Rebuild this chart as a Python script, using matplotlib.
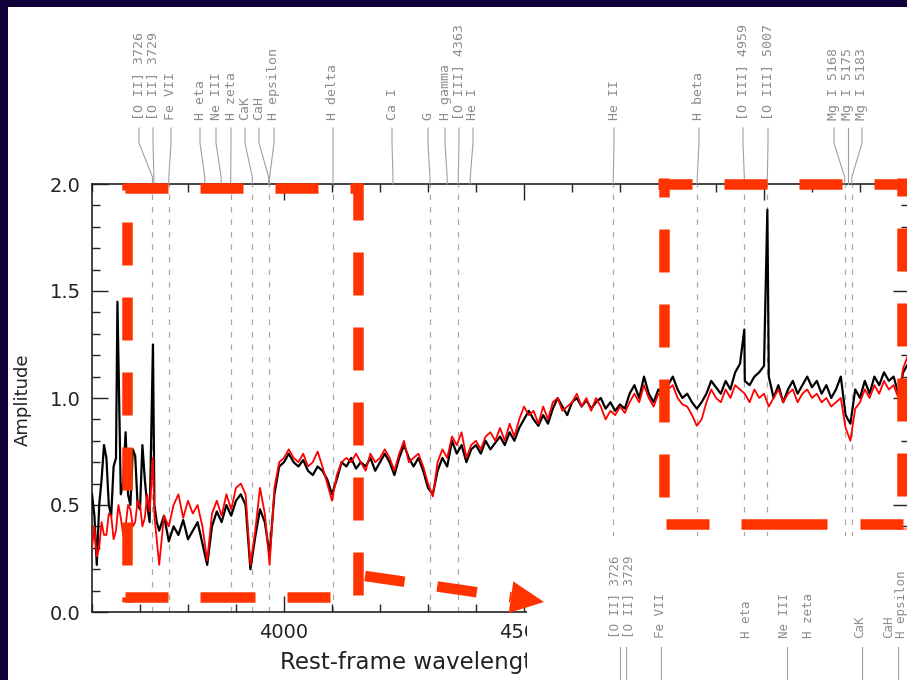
import numpy as np
import matplotlib
matplotlib.use("Agg")
import matplotlib.pyplot as plt
from matplotlib.lines import Line2D
from matplotlib.patches import Rectangle, Polygon
from matplotlib.transforms import Affine2D
from matplotlib.ticker import MultipleLocator, FixedLocator, FixedFormatter, FormatStrFormatter

plt.rcParams['lines.scale_dashes'] = False
plt.rcParams['font.family'] = ['DejaVu Sans']

# ---------------- data ----------------
wave = np.arange(3600, 5320, 10)
black_flux = [
    0.55, 0.22, 0.62, 0.72, 0.45, 0.72, 0.55, 0.84, 0.50, 0.73,
    0.48, 0.62, 0.42, 0.50, 0.38, 0.45, 0.33, 0.40, 0.36, 0.43,
    0.34, 0.38, 0.42, 0.32, 0.22, 0.40, 0.47, 0.42, 0.50, 0.45,
    0.52, 0.55, 0.50, 0.20, 0.35, 0.48, 0.42, 0.27, 0.55, 0.68,
    0.70, 0.74, 0.70, 0.68, 0.71, 0.66, 0.64, 0.68, 0.66, 0.62,
    0.55, 0.62, 0.70, 0.68, 0.72, 0.67, 0.70, 0.68, 0.72, 0.66,
    0.70, 0.74, 0.70, 0.64, 0.72, 0.78, 0.72, 0.68, 0.72, 0.66,
    0.58, 0.55, 0.66, 0.72, 0.68, 0.80, 0.74, 0.78, 0.70, 0.76,
    0.78, 0.74, 0.80, 0.76, 0.79, 0.82, 0.78, 0.84, 0.80, 0.86,
    0.90, 0.94, 0.90, 0.87, 0.92, 0.88, 0.95, 1.00, 0.96, 0.92,
    0.98, 1.00, 0.96, 0.99, 0.95, 0.98, 1.00, 0.95, 0.98, 0.94,
    0.97, 0.95, 1.02, 1.06, 1.00, 1.10, 1.02, 0.98, 1.04, 1.02,
    1.06, 1.10, 1.04, 1.00, 1.02, 0.98, 0.95, 0.98, 1.02, 1.08,
    1.05, 1.02, 1.08, 1.04, 1.12, 1.16, 1.08, 1.06, 1.10, 1.12,
    1.15, 1.10, 1.00, 1.06, 0.98, 1.04, 1.08, 1.02, 1.06, 1.10,
    1.05, 1.08, 1.02, 1.06, 1.00, 1.04, 1.10, 0.92, 0.88, 1.04,
    1.00, 1.08, 1.02, 1.10, 1.06, 1.12, 1.08, 1.10, 1.02, 1.12,
    1.16, 1.14]
red_flux = [
    0.30, 0.26, 0.42, 0.36, 0.45, 0.38, 0.44, 0.40, 0.48, 0.42,
    0.50, 0.44, 0.47, 0.45, 0.22, 0.45, 0.40, 0.50, 0.55, 0.44,
    0.52, 0.46, 0.50, 0.40, 0.24, 0.46, 0.52, 0.45, 0.55, 0.48,
    0.58, 0.60, 0.55, 0.22, 0.38, 0.58, 0.46, 0.22, 0.58, 0.70,
    0.72, 0.76, 0.72, 0.70, 0.74, 0.68, 0.70, 0.75, 0.68, 0.60,
    0.52, 0.64, 0.70, 0.72, 0.70, 0.74, 0.70, 0.66, 0.74, 0.70,
    0.72, 0.76, 0.72, 0.66, 0.74, 0.80, 0.70, 0.72, 0.74, 0.68,
    0.60, 0.54, 0.70, 0.76, 0.72, 0.82, 0.78, 0.84, 0.72, 0.78,
    0.80, 0.76, 0.82, 0.84, 0.80, 0.86, 0.80, 0.88, 0.82, 0.90,
    0.96, 0.92, 0.94, 0.88, 0.96, 0.90, 0.98, 1.00, 0.94, 0.96,
    0.98, 1.02, 0.96, 1.00, 0.94, 1.00, 0.96, 0.90, 0.94, 0.92,
    0.96, 0.93, 0.98, 1.02, 0.98, 1.06, 1.00, 0.96, 1.02, 1.00,
    1.04, 1.06, 1.00, 0.97, 0.96, 0.92, 0.87, 0.90, 0.98, 1.04,
    1.00, 0.98, 1.04, 1.00, 1.06, 1.04, 1.02, 0.98, 1.04, 1.00,
    1.02, 0.96, 1.00, 1.04, 0.98, 1.02, 1.04, 0.98, 1.02, 1.04,
    1.00, 1.02, 0.98, 1.00, 0.96, 0.98, 1.00, 0.86, 0.80, 0.95,
    0.98, 1.04, 1.00, 1.06, 1.02, 1.08, 1.04, 1.06, 1.00, 1.14,
    1.20, 1.16]
# extra samples in the noisy blue end and narrow emission peaks
black_extra_wave = [3605, 3615, 3625, 3635, 3645, 3653, 3665, 3675, 3685,
                    3695, 3705, 3715, 3727, 3735, 4959, 5007]
black_extra_flux = [0.45, 0.50, 0.78, 0.50, 0.68, 1.45, 0.60, 0.55, 0.76,
                    0.50, 0.78, 0.50, 1.25, 0.42, 1.32, 1.88]
red_extra_wave = [3605, 3615, 3625, 3635, 3645, 3655, 3665, 3675, 3685,
                  3695, 3705, 3715, 3727]
red_extra_flux = [0.40, 0.30, 0.36, 0.46, 0.34, 0.50, 0.36, 0.50, 0.40,
                  0.52, 0.40, 0.55, 0.72]

x_major_ticks = [4000, 4500, 5000]
x_major_labels = ['4000', '4500', '']

# line identifications (top)
top_names = ["[O II] 3726", "[O II] 3729", "Fe VII", "H eta", "Ne III", "H zeta",
             "CaK", "CaH", "H epsilon", "H delta", "Ca I", "G", "H gamma",
             "[O III] 4363", "He I", "He II", "H beta", "[O III] 4959",
             "[O III] 5007", "Mg I 5168", "Mg I 5175", "Mg I 5183"]
top_wave = [3726, 3729, 3760, 3835, 3869, 3889, 3934, 3968, 3970, 4102, 4227,
            4304, 4340, 4363, 4388, 4686, 4861, 4959, 5007, 5168, 5175, 5183]
top_text_x = [139, 153, 171, 200, 216, 231, 245, 259, 274, 333, 392, 428, 445,
              459, 473, 614, 699, 743, 768, 834, 848, 862]
dashed_wave = [3726, 3760, 3889, 3934, 3969, 4102, 4304, 4363, 4686, 4861,
               4959, 5007, 5168, 5183]

# identifications of the next panel (bottom strip)
bot_names = ["[O II] 3726", "[O II] 3729", "Fe VII", "H eta", "Ne III", "H zeta",
             "CaK", "CaH", "H epsilon"]
bot_text_x = [615, 629, 660, 747, 785, 808, 860, 889, 901]
bot_line_x = [620, 626, 661, 787, 862, 898]

# ---------------- figure ----------------
W, H = 907, 680
NAVY = '#10003a'
RED = '#ff3300'
GREY = '#8c8c8c'
LBLFONT = ['DejaVu Sans Mono', 'DejaVu Sans']
fig = plt.figure(figsize=(W / 100, H / 100), dpi=100, facecolor=NAVY)
px = Affine2D().scale(1 / W, -1 / H).translate(0, 1) + fig.transFigure

fig.add_artist(Rectangle((8, 7), W, H, transform=px, facecolor='white',
                         edgecolor='none', zorder=-5))

ax = fig.add_axes([92 / W, 1 - 612 / H, (909 - 92) / W, (612 - 184) / H])
ax.set_facecolor('none')
ax.set_xlim(3600, 3600 + 817 / 0.48)
ax.set_ylim(0, 2.0)

for w in dashed_wave:
    ax.axvline(w, color='#a8a8a8', lw=0.9, ls=(0, (4, 5)), zorder=1)

wb = np.concatenate([wave, black_extra_wave])
fb = np.concatenate([black_flux, black_extra_flux])
o = np.argsort(wb)
ax.plot(wb[o], fb[o], color='black', lw=1.6, zorder=3)
wr = np.concatenate([wave, red_extra_wave])
fr = np.concatenate([red_flux, red_extra_flux])
o = np.argsort(wr)
ax.plot(wr[o], fr[o], color='#ff0000', lw=1.3, zorder=4)

ax.xaxis.set_major_locator(FixedLocator(x_major_ticks))
ax.xaxis.set_major_formatter(FixedFormatter(x_major_labels))
ax.xaxis.set_minor_locator(MultipleLocator(100))
ax.yaxis.set_major_locator(MultipleLocator(0.5))
ax.yaxis.set_minor_locator(MultipleLocator(0.1))
ax.yaxis.set_major_formatter(FormatStrFormatter('%.1f'))
ax.tick_params(which='both', direction='in', top=True, right=True,
               colors='#222222', labelsize=14, width=1.0)
ax.tick_params(which='major', length=11.5)
ax.tick_params(which='minor', length=5.8)
ax.tick_params(axis='x', pad=8)
ax.tick_params(axis='y', pad=8)
for s in ax.spines.values():
    s.set_linewidth(1.2)
    s.set_color('#222222')

fig.text(23 / W, 1 - 400 / H, 'Amplitude', rotation=90, ha='center',
         va='center', fontsize=13, color='#222222')
fig.text(280 / W, 1 - 662 / H, 'Rest-frame wavelength',
         ha='left', va='center', fontsize=16.5, color='#222222', zorder=1)

# top identification labels with connectors
inv = px.inverted()
for name, w, xt in zip(top_names, top_wave, top_text_x):
    xl = inv.transform(ax.transData.transform((w, 0)))[0]
    fig.text(xt / W, 1 - 120 / H, name, rotation=90, ha='center', va='bottom',
             fontsize=9.5, color=GREY, family=LBLFONT)
    fig.add_artist(Line2D([xt, xt, xl, xl], [128, 143, 177, 184], transform=px,
                          color='#a0a0a0', lw=0.8))

# cover of the lower right part
fig.add_artist(Rectangle((527, 536), W, H, transform=px, facecolor='white',
                         edgecolor='none', zorder=3))
for name, xt in zip(bot_names, bot_text_x):
    fig.text(xt / W, 1 - 638 / H, name, rotation=90, ha='center', va='bottom',
             fontsize=9, color=GREY, family=LBLFONT, zorder=4)
for xb in bot_line_x:
    fig.add_artist(Line2D([xb, xb], [647, 680], transform=px, color='#a0a0a0',
                          lw=0.8, zorder=4))

# red dashed highlight boxes
def red_side(x0, y0, x1, y1, seq=(43, 32), offset=0):
    k = 0.72
    fig.add_artist(Line2D([x0, x1], [y0, y1], transform=px, color=RED,
                          lw=10.5 * k, dash_capstyle='butt',
                          solid_capstyle='butt',
                          ls=(offset * k, [s * k for s in seq]), zorder=6))

red_side(122, 188, 362, 188, offset=72)
red_side(127, 183, 127, 602, offset=36)
red_side(122, 597, 335, 597, seq=(43, 32, 55, 32, 43, 32), offset=234)
red_side(358, 183, 358, 597, offset=6)
red_side(365, 576, 511, 597.2, seq=(40, 33), offset=0)
fig.add_artist(Polygon([(513.3, 581.4), (508.7, 613.0), (544.0, 602.0)],
                       closed=True, transform=px, facecolor=RED,
                       edgecolor='none', zorder=6))

red_side(658, 183.5, 912, 183.5, offset=9)
red_side(663.5, 178, 663.5, 529, offset=24)
red_side(658, 524, 912, 524, seq=(43, 32, 86, 33, 43, 32), offset=261)
red_side(902, 178, 902, 529, offset=25)

fig.savefig('out.png', dpi=100, facecolor=NAVY)
